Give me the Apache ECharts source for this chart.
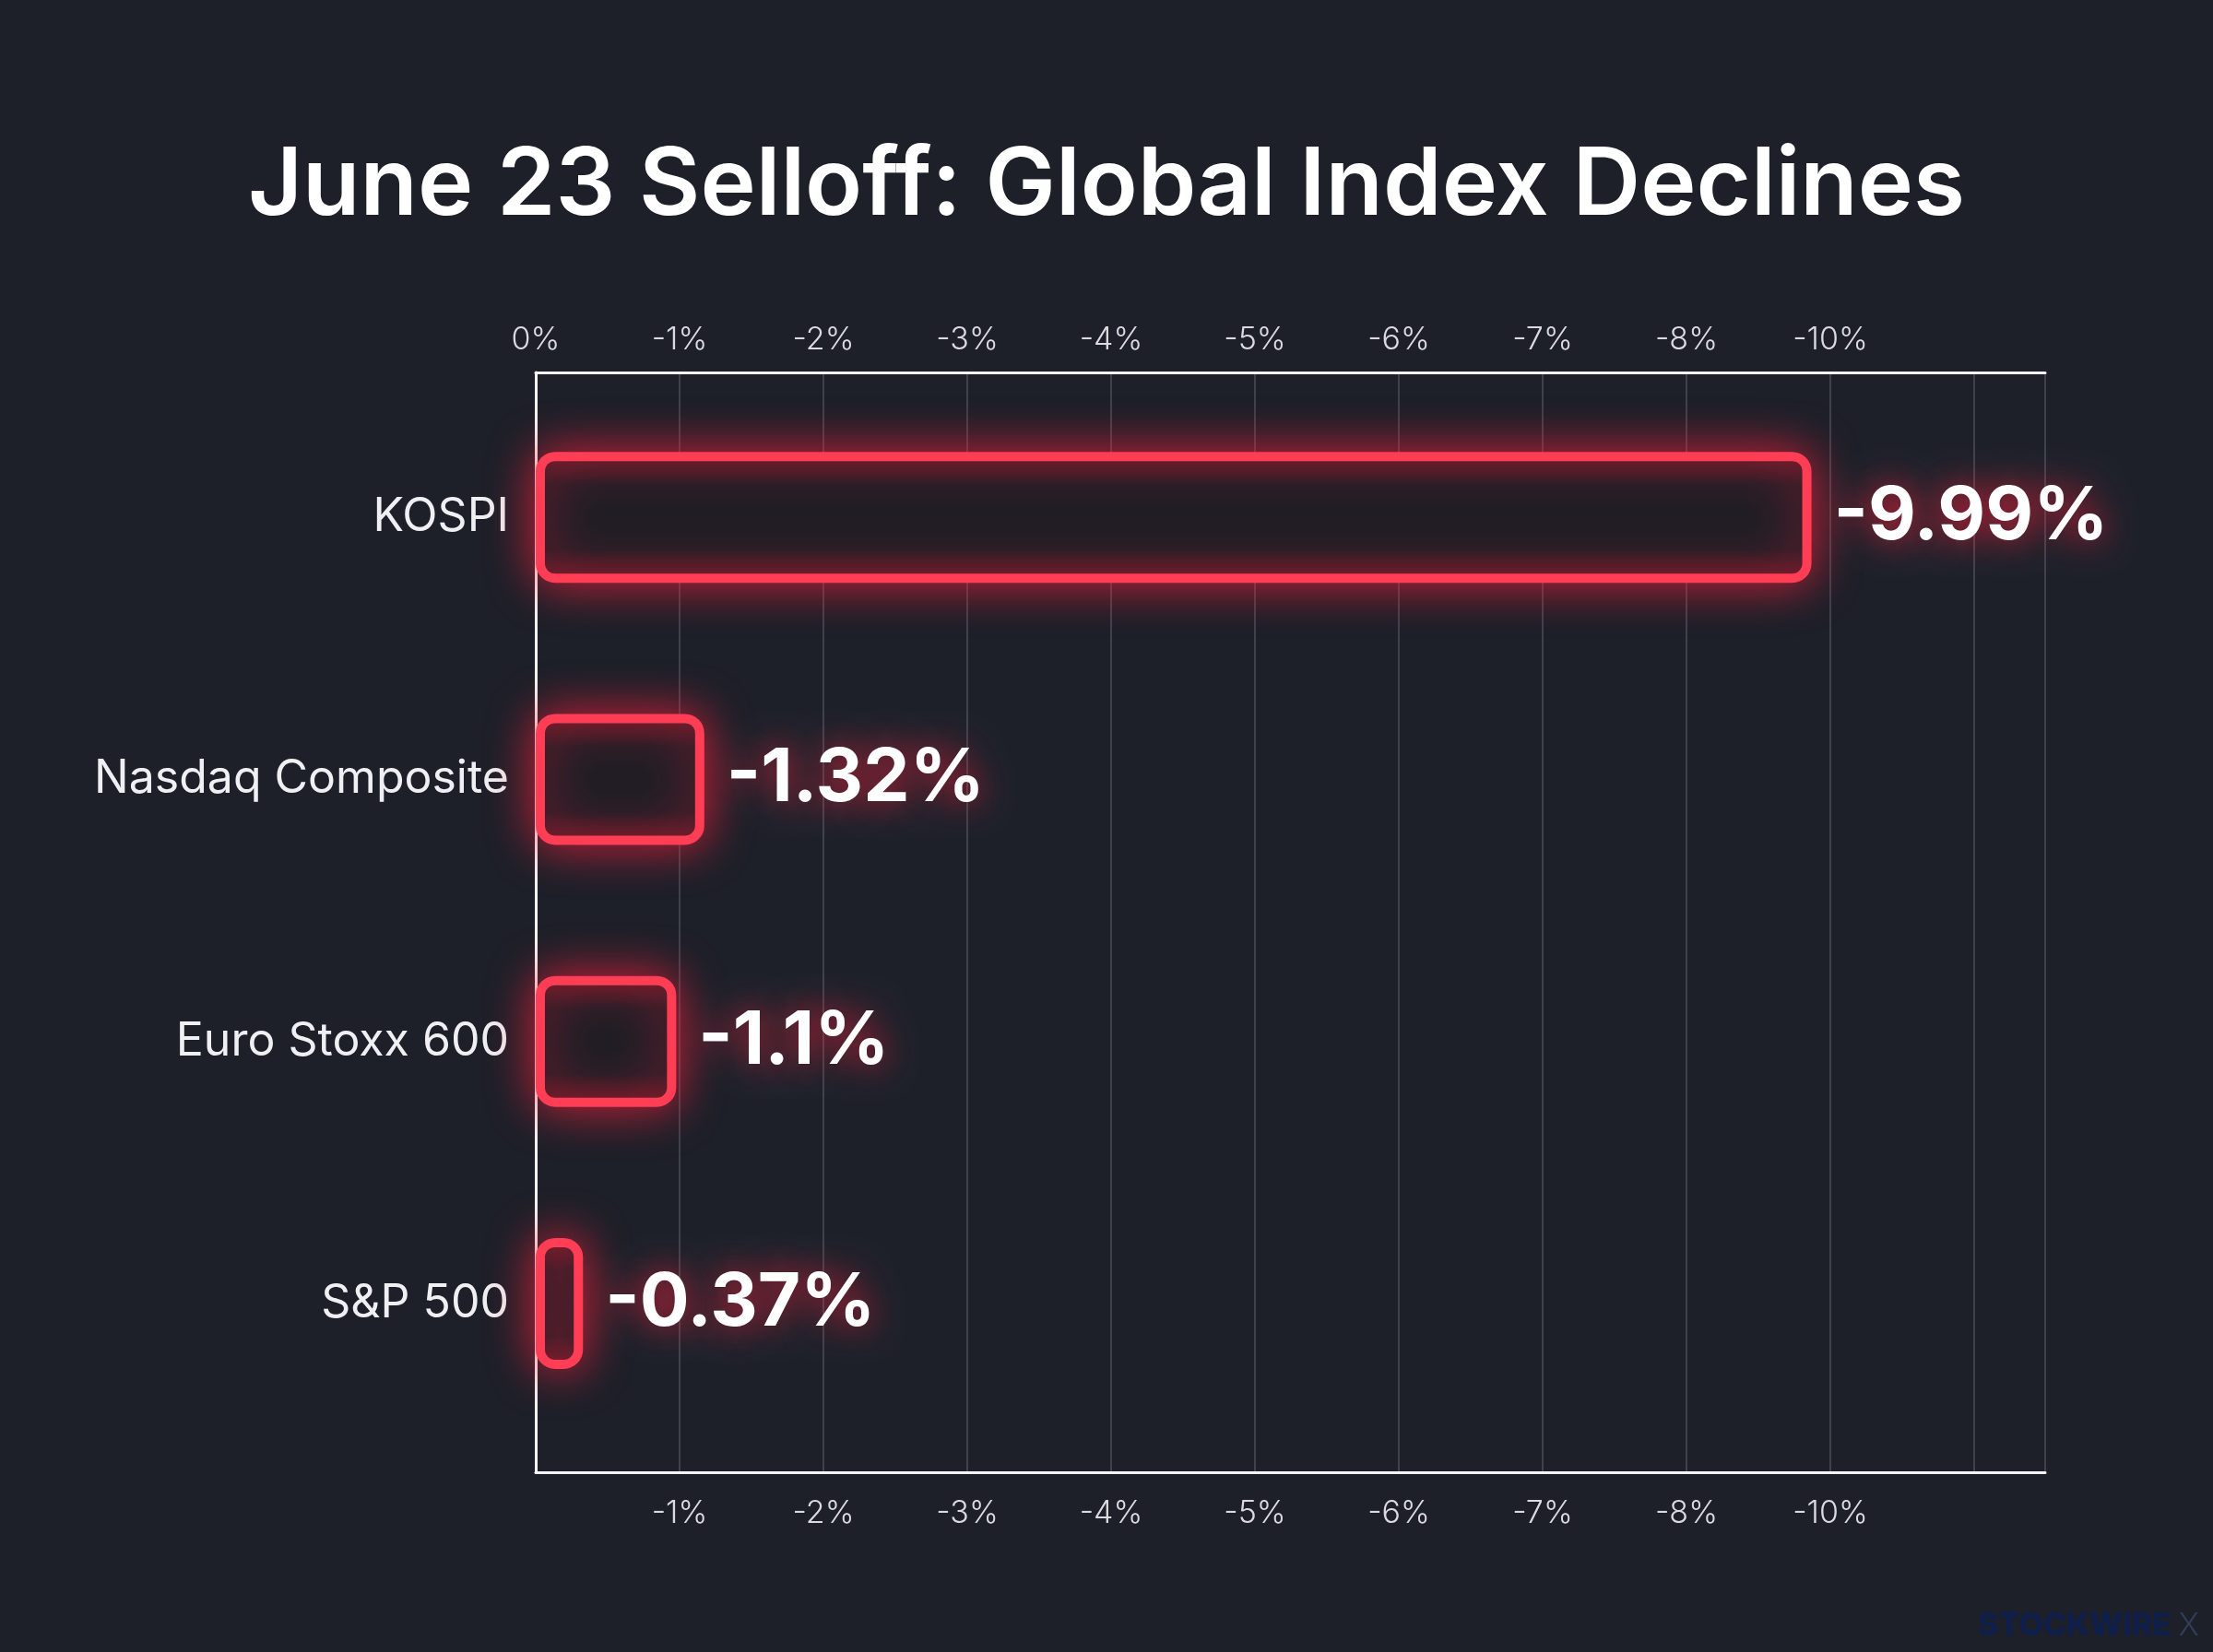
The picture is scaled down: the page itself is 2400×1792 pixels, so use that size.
<!DOCTYPE html>
<html>
<head>
<meta charset="utf-8">
<title>June 23 Selloff</title>
<script src="https://cdn.jsdelivr.net/npm/echarts@6/dist/echarts.min.js"></script>
<style>
	html, body { margin: 0; padding: 0; background: #1d2029; }
	#chart { width: 2400px; height: 1792px; }
</style>
</head>
<body>
<div id="chart"></div>
<script>
	'use strict';

	// DATA
	var indices = ['KOSPI', 'Nasdaq Composite', 'Euro Stoxx 600', 'S&P 500'];
	var declines = [9.99, 1.32, 1.1, 0.37];
	var tickLabels = ['0%', '-1%', '-2%', '-3%', '-4%', '-5%', '-6%', '-7%', '-8%', '-10%'];

	// axis scale as drawn in the picture (gridlines are not 1% apart)
	var STEP = 1.1264;
	var AXIS_MAX = 11.82;

	var FONT = 'Inter, "Noto Sans", sans-serif';

	function tickText(v) {
		var i = Math.round(v / STEP);
		return tickLabels[i] || '';
	}

	var labelStyle = {
		fontFamily: FONT,
		fontSize: 34,
		fontWeight: 300,
		color: '#d9dbe0'
	};

	var chart = echarts.init(document.getElementById('chart'));
	var option = {
		backgroundColor: '#1d2029',
		title: [{
			text: 'June 23 Selloff: Global Index Declines',
			left: 'center',
			top: 146,
			textStyle: {
				fontFamily: FONT,
				fontSize: 102,
				fontWeight: 600,
				color: '#ffffff'
			}
		}, {
			text: '{a|STOCKWIRE }{b|X}',
			right: 10,
			bottom: 6,
			textStyle: {
				rich: {
					a: { fontFamily: FONT, fontSize: 34, fontWeight: 800, color: '#0e1f4c' },
					b: { fontFamily: FONT, fontSize: 34, fontWeight: 300, color: '#333d5a' }
				}
			}
		}],
		grid: [{
			left: 581,
			right: 182,
			top: 404,
			bottom: 195
		}, {
			left: 581,
			right: 182,
			top: 419,
			bottom: 236
		}],
		xAxis: [{
			gridIndex: 0,
			type: 'value',
			position: 'top',
			min: 0,
			max: AXIS_MAX,
			interval: STEP,
			axisLine: { show: true, lineStyle: { color: '#f4f4f6', width: 3 } },
			axisTick: { show: false },
			splitLine: { show: true, lineStyle: { color: '#4a4e59', width: 1.5 } },
			axisLabel: Object.assign({ margin: 18, formatter: tickText }, labelStyle)
		}, {
			gridIndex: 0,
			type: 'value',
			position: 'bottom',
			min: 0,
			max: AXIS_MAX,
			interval: STEP,
			axisLine: { show: true, lineStyle: { color: '#f4f4f6', width: 3 } },
			axisTick: { show: false },
			splitLine: { show: false },
			axisLabel: Object.assign({
				margin: 28,
				formatter: function(v) {
					return Math.round(v / STEP) === 0 ? '' : tickText(v);
				}
			}, labelStyle)
		}, {
			gridIndex: 1,
			type: 'value',
			min: 0,
			max: AXIS_MAX,
			show: false
		}],
		yAxis: [{
			gridIndex: 0,
			type: 'category',
			data: indices,
			axisLine: { show: true, lineStyle: { color: '#f4f4f6', width: 3 } },
			axisTick: { show: false },
			axisLabel: { show: false },
			splitLine: { show: false }
		}, {
			gridIndex: 1,
			type: 'category',
			data: indices,
			inverse: true,
			axisLine: { show: false },
			axisTick: { show: false },
			splitLine: { show: false },
			axisLabel: {
				margin: 29,
				fontFamily: FONT,
				fontSize: 50,
				fontWeight: 400,
				color: '#eef0f3'
			}
		}],
		series: [{
			name: 'decline',
			type: 'bar',
			xAxisIndex: 2,
			yAxisIndex: 1,
			data: declines,
			barWidth: 142,
			itemStyle: {
				color: {
					type: 'linear', x: 0, y: 0, x2: 0, y2: 1,
					colorStops: [
						{ offset: 0, color: '#6a1c2a' },
						{ offset: 0.25, color: '#201e26' },
						{ offset: 0.75, color: '#201e26' },
						{ offset: 1, color: '#6a1c2a' }
					]
				},
				borderColor: '#ff3d55',
				borderWidth: 10,
				borderRadius: 16,
				shadowColor: 'rgba(255, 30, 60, 0.8)',
				shadowBlur: 50
			},
			label: {
				show: true,
				position: 'right',
				distance: 24,
				formatter: function(p) {
					return '-' + p.value + '%';
				},
				fontFamily: FONT,
				fontSize: 80,
				fontWeight: 700,
				color: '#ffffff',
				textShadowColor: 'rgba(255, 30, 60, 0.9)',
				textShadowBlur: 36
			}
		}]
	};
	chart.setOption(option);
</script>
</body>
</html>
